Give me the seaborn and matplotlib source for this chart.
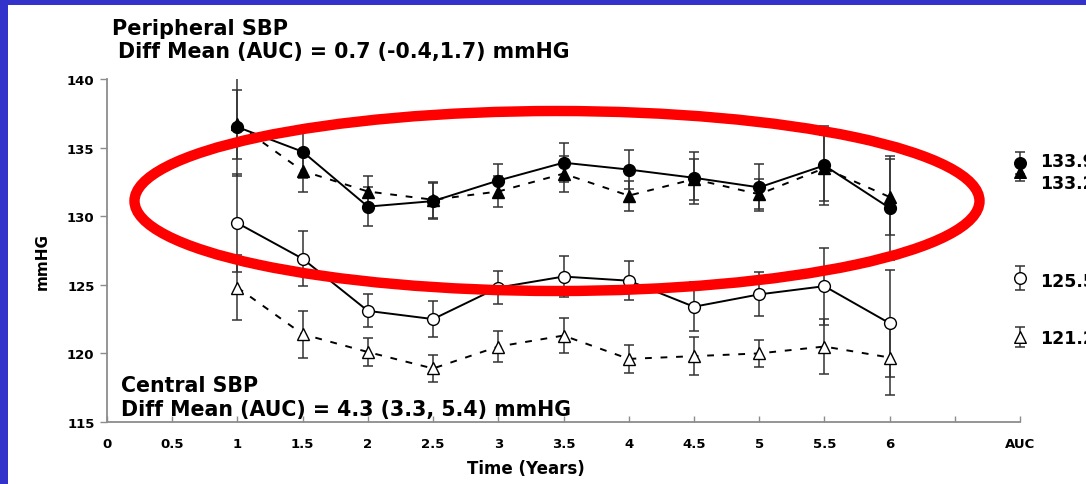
import numpy as np
import pandas as pd
import seaborn as sns
import matplotlib
matplotlib.use("Agg")
import matplotlib.pyplot as plt
from matplotlib.patches import Ellipse, Rectangle

# ---------------- data ----------------
years = [1, 1.5, 2, 2.5, 3, 3.5, 4, 4.5, 5, 5.5, 6]
auc_x = 7

periph_circle = [136.5, 134.7, 130.7, 131.1, 132.6, 133.9, 133.4, 132.8, 132.1, 133.7, 130.6]
periph_circle_err = [3.6, 1.9, 1.4, 1.3, 1.2, 1.4, 1.4, 1.9, 1.7, 2.9, 3.8]
periph_tri = [136.7, 133.3, 131.8, 131.2, 131.8, 133.1, 131.5, 132.7, 131.6, 133.5, 131.4]
periph_tri_err = [2.5, 1.5, 1.1, 1.3, 1.1, 1.3, 1.1, 1.5, 1.1, 2.4, 2.8]

central_circle = [129.5, 126.9, 123.1, 122.5, 124.8, 125.6, 125.3, 123.4, 124.3, 124.9, 122.2]
central_circle_err = [3.6, 2.0, 1.2, 1.3, 1.2, 1.5, 1.4, 1.8, 1.6, 2.8, 3.9]
central_tri = [124.8, 121.4, 120.1, 118.9, 120.5, 121.3, 119.6, 119.8, 120.0, 120.5, 119.7]
central_tri_err = [2.4, 1.7, 1.0, 1.0, 1.1, 1.3, 1.0, 1.4, 1.0, 2.0, 2.7]

auc_values = [133.9, 133.2, 125.5, 121.2]
auc_errs = [0.8, 0.6, 0.9, 0.7]
auc_labels = ["133.9", "133.2", "125.5", "121.2"]

x_ticks = [0, 0.5, 1, 1.5, 2, 2.5, 3, 3.5, 4, 4.5, 5, 5.5, 6, 6.5, 7]
x_ticklabels = ["0", "0.5", "1", "1.5", "2", "2.5", "3", "3.5", "4", "4.5", "5", "5.5", "6", "", "AUC"]
y_ticks = [115, 120, 125, 130, 135, 140]

# ---------------- style ----------------
sns.set_theme(style="white")
plt.rcParams["font.family"] = ["DejaVu Sans"]
plt.rcParams["font.weight"] = "bold"
plt.rcParams["text.color"] = "black"
plt.rcParams["xtick.color"] = "black"
plt.rcParams["ytick.color"] = "black"
plt.rcParams["axes.labelcolor"] = "black"

W, H = 1086, 485
fig = plt.figure(figsize=(W / 100, H / 100), dpi=100, facecolor="white")
ax = fig.add_axes([107 / W, 62 / H, (1020 - 107) / W, (423 - 80) / H])
ax.set_facecolor("white")

DASH = (0, (3.5, 4.5))
series = [
    (periph_circle, periph_circle_err, "o", "black", "-"),
    (periph_tri, periph_tri_err, "^", "black", DASH),
    (central_circle, central_circle_err, "o", "white", "-"),
    (central_tri, central_tri_err, "^", "white", DASH),
]

for vals, errs, mk, fc, ls in series:
    ax.errorbar(years, vals, yerr=errs, fmt="none", ecolor="#333333",
                elinewidth=1.1, capsize=3.5, capthick=1.1, zorder=2)
    df = pd.DataFrame({"x": years, "y": vals})
    sns.lineplot(data=df, x="x", y="y", ax=ax, color="black", linewidth=1.4,
                 linestyle=ls, marker=mk, markersize=8.5,
                 markerfacecolor=fc, markeredgecolor="black", markeredgewidth=1.0,
                 zorder=3)

# AUC points
auc_markers = [("o", "black"), ("^", "black"), ("o", "white"), ("^", "white")]
label_px_y = [162, 184, 282, 339]
for v, e, (mk, fc), lab, py in zip(auc_values, auc_errs, auc_markers, auc_labels, label_px_y):
    ax.errorbar([auc_x], [v], yerr=[e], fmt="none", ecolor="#333333",
                elinewidth=1.1, capsize=3.5, capthick=1.1, zorder=2, clip_on=False)
    sns.scatterplot(x=[auc_x], y=[v], ax=ax, marker=mk, s=70, color=fc,
                    edgecolor="black", linewidth=1.0, zorder=3, clip_on=False)
    fig.text(1040 / W, 1 - py / H, lab, ha="left", va="center", fontsize=12.5,
             fontweight="bold", color="black")

ax.set_xlim(0, 7)
ax.set_ylim(115, 140)
ax.set_xticks(x_ticks)
ax.set_xticklabels(x_ticklabels)
ax.set_yticks(y_ticks)
ax.set_xlabel("")
ax.set_ylabel("")
for s in ["top", "right"]:
    ax.spines[s].set_visible(False)
for s in ["left", "bottom"]:
    ax.spines[s].set_color("#8c8c8c")
    ax.spines[s].set_linewidth(1.3)
ax.tick_params(axis="x", direction="in", length=4, width=1, color="#8c8c8c",
               pad=10.5, labelsize=9.5, labelcolor="black")
ax.tick_params(axis="y", direction="out", length=5, width=1, color="#8c8c8c",
               pad=4, labelsize=9.5, left=True, labelcolor="black")
ax.tick_params(axis="x", bottom=True)
for lab in ax.get_xticklabels() + ax.get_yticklabels():
    lab.set_fontweight("bold")

# texts (figure pixel coordinates)
def fx(px):
    return px / W

def fy(py):
    return 1 - py / H

fig.text(fx(112), fy(29), "Peripheral SBP", fontsize=15, fontweight="bold",
         ha="left", va="center")
fig.text(fx(118), fy(52), "Diff Mean (AUC) = 0.7 (-0.4,1.7) mmHG", fontsize=14.8,
         fontweight="bold", ha="left", va="center")
fig.text(fx(121), fy(386), "Central SBP", fontsize=14.8, fontweight="bold",
         ha="left", va="center")
fig.text(fx(121), fy(410), "Diff Mean (AUC) = 4.3 (3.3, 5.4) mmHG", fontsize=14.8,
         fontweight="bold", ha="left", va="center")
fig.text(fx(526), fy(469), "Time (Years)", fontsize=12, fontweight="bold",
         ha="center", va="center")
fig.text(fx(42), fy(262), "mmHG", fontsize=11, fontweight="bold",
         ha="center", va="center", rotation=90)

# blue frame strips
fig.patches.append(Rectangle((0, 0), 8 / W, 1, transform=fig.transFigure,
                             facecolor="#3333cc", edgecolor="none", zorder=0))
fig.patches.append(Rectangle((0, 1 - 6 / H), 1, 6 / H, transform=fig.transFigure,
                             facecolor="#3333cc", edgecolor="none", zorder=0))

# red ellipse annotation
fig.patches.append(Ellipse((fx(557), fy(202)), 845 / W, 180 / H,
                           transform=fig.transFigure, fill=False,
                           edgecolor="#ff0000", linewidth=7.5, zorder=10))

fig.savefig("out.png", dpi=100, facecolor="white")
